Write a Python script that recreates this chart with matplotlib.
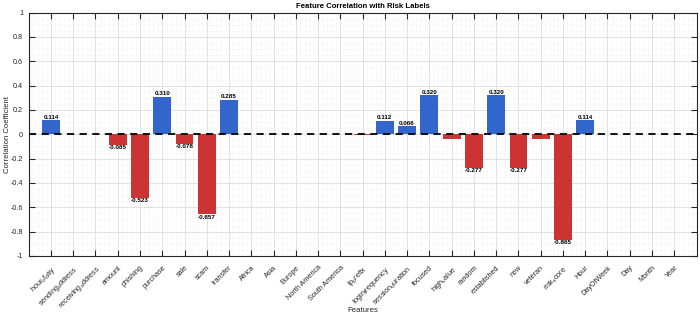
import numpy as np
import matplotlib
matplotlib.use('Agg')
import matplotlib.pyplot as plt
from matplotlib.ticker import AutoMinorLocator

plt.rcParams['font.family'] = ['Liberation Sans', 'DejaVu Sans']
plt.rcParams['mathtext.fontset'] = 'custom'
plt.rcParams['mathtext.rm'] = 'Liberation Sans'
plt.rcParams['mathtext.default'] = 'regular'

features = ['hour_of_day', 'sending_address', 'receiving_address', 'amount', 'phishing',
            'purchase', 'sale', 'scam', 'transfer', 'Africa', 'Asia', 'Europe',
            'North America', 'South America', 'ip_prefix', 'login_frequency',
            'session_duration', 'focused', 'high_value', 'random', 'established', 'new',
            'veteran', 'risk_score', 'Hour', 'DayOfWeek', 'Day', 'Month', 'Year']
corr = [0.114, 0.0, 0.0, -0.085, -0.523, 0.310, -0.078, -0.657, 0.285, 0.0, 0.0, 0.005,
        0.0, 0.0, -0.004, 0.112, 0.066, 0.320, -0.038, -0.277, 0.320, -0.277,
        -0.038, -0.865, 0.114, 0.005, 0.0, 0.005, 0.0]

blue = '#3366cc'
red = '#cc3333'


def tex_label(name):
    # matlab tex interpreter turns "_x" into a one-letter subscript
    out = ''
    i = 0
    while i < len(name):
        if name[i] == '_' and i + 1 < len(name):
            out += '$_{' + name[i + 1] + '}$'
            i += 2
        else:
            out += name[i]
            i += 1
    return out


x = np.arange(1, len(features) + 1)
vals = np.array(corr)
colors = [blue if v >= 0 else red for v in vals]

fig = plt.figure(figsize=(7, 3.16), dpi=100)
ax = fig.add_axes([0.041, 0.19, 0.954, 0.77])

ax.bar(x, vals, width=0.8, color=colors, zorder=3)
ax.axhline(0, color='black', linestyle='--', linewidth=1.3, dashes=(4, 3), zorder=4)

for xi, v in zip(x, vals):
    if abs(v) > 0.05:
        if v > 0:
            ax.text(xi, v + 0.004, '%.3f' % v, ha='center', va='bottom',
                    fontsize=4.5, fontweight='bold', zorder=5)
        else:
            ax.text(xi, v - 0.004, '%.3f' % v, ha='center', va='top',
                    fontsize=4.5, fontweight='bold', zorder=5)

ax.set_xlim(0, 30)
ax.set_ylim(-1, 1)
ax.set_xticks(x)
ax.set_xticklabels([tex_label(f) for f in features], rotation=45, ha='right',
                   rotation_mode='anchor', fontsize=5.2, color='#262626')
ax.set_yticks(np.arange(-1, 1.01, 0.2))
ax.set_yticklabels(['-1', '-0.8', '-0.6', '-0.4', '-0.2', '0', '0.2', '0.4', '0.6', '0.8', '1'])
ax.xaxis.set_minor_locator(AutoMinorLocator(5))
ax.yaxis.set_minor_locator(AutoMinorLocator(4))
ax.tick_params(axis='both', which='major', direction='in', length=4, width=0.8,
               top=True, right=True, colors='#262626', labelsize=5.2)
ax.tick_params(axis='x', which='major', pad=6)
ax.tick_params(axis='y', which='major', pad=4)
ax.tick_params(axis='both', which='minor', length=0, top=True, right=True)
ax.grid(True, which='major', color='#dcdcdc', linewidth=0.6, zorder=0)
ax.grid(True, which='minor', color='#ececec', linewidth=0.5, linestyle=':', zorder=0)
for s in ax.spines.values():
    s.set_color('#262626')
    s.set_linewidth(0.8)

ax.set_title('Feature Correlation with Risk Labels', fontsize=5.6, fontweight='bold', pad=3)
ax.set_xlabel('Features', fontsize=5.6, color='#262626', va='center')
ax.xaxis.set_label_coords(0.5, -0.225)
ax.set_ylabel('Correlation Coefficient', fontsize=5.6, color='#262626', va='center')
ax.yaxis.set_label_coords(-0.032, 0.5)

plt.savefig('out.png', dpi=100)
